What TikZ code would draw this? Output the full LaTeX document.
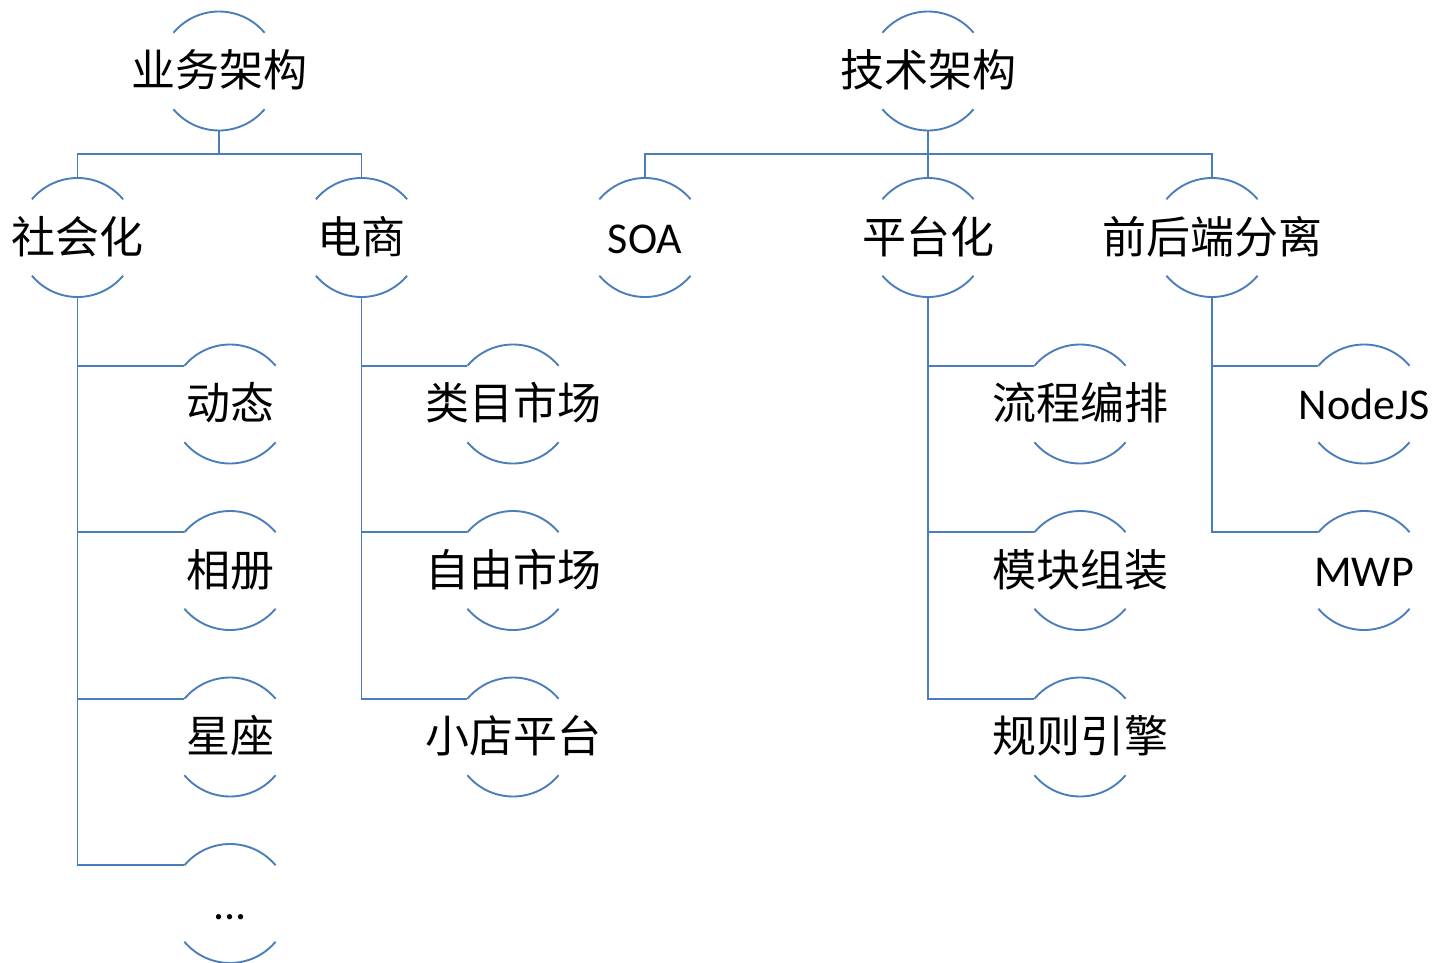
\documentclass[tikz,border=0pt]{standalone}
\usepackage{fontspec}
\setmainfont{Carlito}
\newfontfamily\cjk{Noto Sans CJK SC}
\definecolor{lnc}{HTML}{4A7EBB}
\newcommand\zw[1]{\makebox[0pt]{#1}}
\tikzset{
  bub/.style={circle, minimum size=119pt, inner sep=0pt, outer sep=0pt,
    text height=31pt, text depth=0pt, font=\fontsize{44}{50}\selectfont},
  zh/.style={font=\cjk\fontsize{44}{50}\selectfont},
  ln/.style={draw=lnc, line width=1.9pt},
}
\begin{document}
\begin{tikzpicture}[x=1pt,y=1pt]
\useasboundingbox (0,0) rectangle (1435,-963);
% roots
\node[bub,zh] (r1) at (219,-71) {\zw{业务架构}};
\node[bub,zh] (r2) at (928,-71) {\zw{技术架构}};
% level 2
\node[bub,zh] (a) at (77.5,-237.5) {\zw{社会化}};
\node[bub,zh] (b) at (361.5,-237.5) {\zw{电商}};
\node[bub]    (c) at (645,-237.5) {\zw{SOA}};
\node[bub,zh] (d) at (928,-237.5) {\zw{平台化}};
\node[bub,zh] (e) at (1212,-237.5) {\zw{前后端分离}};
% level 3
\node[bub,zh] (a1) at (230,-404) {\zw{动态}};
\node[bub,zh] (a2) at (230,-570.5) {\zw{相册}};
\node[bub,zh] (a3) at (230,-737) {\zw{星座}};
\node[bub]    (a4) at (230,-903.5) {\zw{...}};
\node[bub,zh] (b1) at (513,-404) {\zw{类目市场}};
\node[bub,zh] (b2) at (513,-570.5) {\zw{自由市场}};
\node[bub,zh] (b3) at (513,-737) {\zw{小店平台}};
\node[bub,zh] (d1) at (1080,-404) {\zw{流程编排}};
\node[bub,zh] (d2) at (1080,-570.5) {\zw{模块组装}};
\node[bub,zh] (d3) at (1080,-737) {\zw{规则引擎}};
\node[bub]    (e1) at (1364,-404) {\zw{NodeJS}};
\node[bub]    (e2) at (1364,-570.5) {\zw{MWP}};
% arcs
\foreach \n in {r1,r2,a,b,c,d,e,a1,a2,a3,a4,b1,b2,b3,d1,d2,d3,e1,e2}{
  \draw[ln] (\n.40) arc[start angle=40,end angle=140,radius=59.5pt];
  \draw[ln] (\n.220) arc[start angle=220,end angle=320,radius=59.5pt];
}
% connectors level 1 -> 2
\coordinate (j1) at ([yshift=-23.5pt]r1.south);
\coordinate (j2) at ([yshift=-23.5pt]r2.south);
\draw[ln] (r1.south) -- (j1);
\draw[ln] (j1) -| (a.north);
\draw[ln] (j1) -| (b.north);
\draw[ln] (r2.south) -- (j2);
\draw[ln] (j2) -| (c.north);
\draw[ln] (j2) -| (d.north);
\draw[ln] (j2) -| (e.north);
% connectors level 2 -> 3
\foreach \p/\c in {a/a1,a/a2,a/a3,a/a4,b/b1,b/b2,b/b3,d/d1,d/d2,d/d3,e/e1,e/e2}{
  \draw[ln] (\p.south) |- (\c.140);
}
\end{tikzpicture}
\end{document}
